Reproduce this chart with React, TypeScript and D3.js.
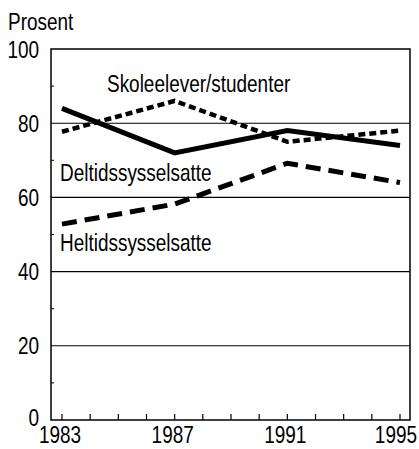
import React from "react";
import * as d3 from "d3";

const years = [1983, 1987, 1991, 1995];
const deltid = [84, 72, 78, 74];
const skole = [77.7, 86, 75, 78];
const heltid = [52.8, 58.2, 69.2, 64];
const yTicks = [0, 20, 40, 60, 80, 100];
const yMinor = [10, 30, 50, 70, 90];
const xTickYears = d3.range(1983, 1996);
const xLabels = [1983, 1987, 1991, 1995];
const seriesNames = ["Deltidssysselsatte", "Skoleelever/studenter", "Heltidssysselsatte"];

const W = 419;
const H = 449;
const FONT = "'Liberation Sans', Arial, sans-serif";
const FS = 24;
const SX = 0.79;

function NText({ x, y, anchor = "start", children }: any) {
  return (
    <text
      transform={`translate(${x},${y}) scale(${SX},1)`}
      textAnchor={anchor}
      fontFamily={FONT}
      fontSize={FS}
      fill="#000"
    >
      {children}
    </text>
  );
}

export default function App() {
  const left = 51, right = 410, top = 49, bottom = 420;
  const x = d3.scaleLinear().domain([1982.61, 1995.355]).range([left, right]);
  const y = d3.scaleLinear().domain([0, 100]).range([bottom, top]);
  const line = d3
    .line<number>()
    .x((_, i) => x(years[i]))
    .y((d) => y(d));

  const series = [
    { name: seriesNames[0], data: deltid, dash: "none", w: 5 },
    { name: seriesNames[1], data: skole, dash: "7 4", w: 4.5 },
    { name: seriesNames[2], data: heltid, dash: "15 8", w: 5 },
  ];

  return (
    <svg width={W} height={H} style={{ position: "absolute", left: 0, top: 0, background: "#fff" }}>
      <rect x={0} y={0} width={W} height={H} fill="#fff" />
      <NText x={8} y={30}>Prosent</NText>
      {yTicks.map((t) => (
        <g key={t}>
          {t > 0 && t < 100 && (
            <line x1={left} x2={right} y1={y(t)} y2={y(t)} stroke="#000" strokeWidth={1.1} />
          )}
          <NText x={39} y={y(t) + (t === 0 ? 6 : 8.5)} anchor="end">{t}</NText>
        </g>
      ))}
      {yMinor.map((t) => (
        <line key={t} x1={left} x2={left + 3} y1={y(t)} y2={y(t)} stroke="#000" strokeWidth={1} />
      ))}
      {xTickYears.map((yr) => (
        <line key={yr} x1={x(yr)} x2={x(yr)} y1={bottom} y2={bottom - 6} stroke="#000" strokeWidth={1.2} />
      ))}
      <rect x={left} y={top} width={right - left} height={bottom - top} fill="none" stroke="#000" strokeWidth={1.5} />
      {xLabels.map((yr, i) =>
        i === xLabels.length - 1 ? (
          <NText key={yr} x={x(yr) + 17} y={443} anchor="end">{yr}</NText>
        ) : (
          <NText key={yr} x={x(yr) - 2} y={443} anchor="middle">{yr}</NText>
        )
      )}
      {series.map((s) => (
        <path
          key={s.name}
          d={line(s.data) || ""}
          fill="none"
          stroke="#000"
          strokeWidth={s.w}
          strokeDasharray={s.dash}
          strokeLinejoin="miter"
        />
      ))}
      <NText x={107} y={92}>{seriesNames[1]}</NText>
      <NText x={60} y={181}>{seriesNames[0]}</NText>
      <NText x={60} y={251}>{seriesNames[2]}</NText>
    </svg>
  );
}
